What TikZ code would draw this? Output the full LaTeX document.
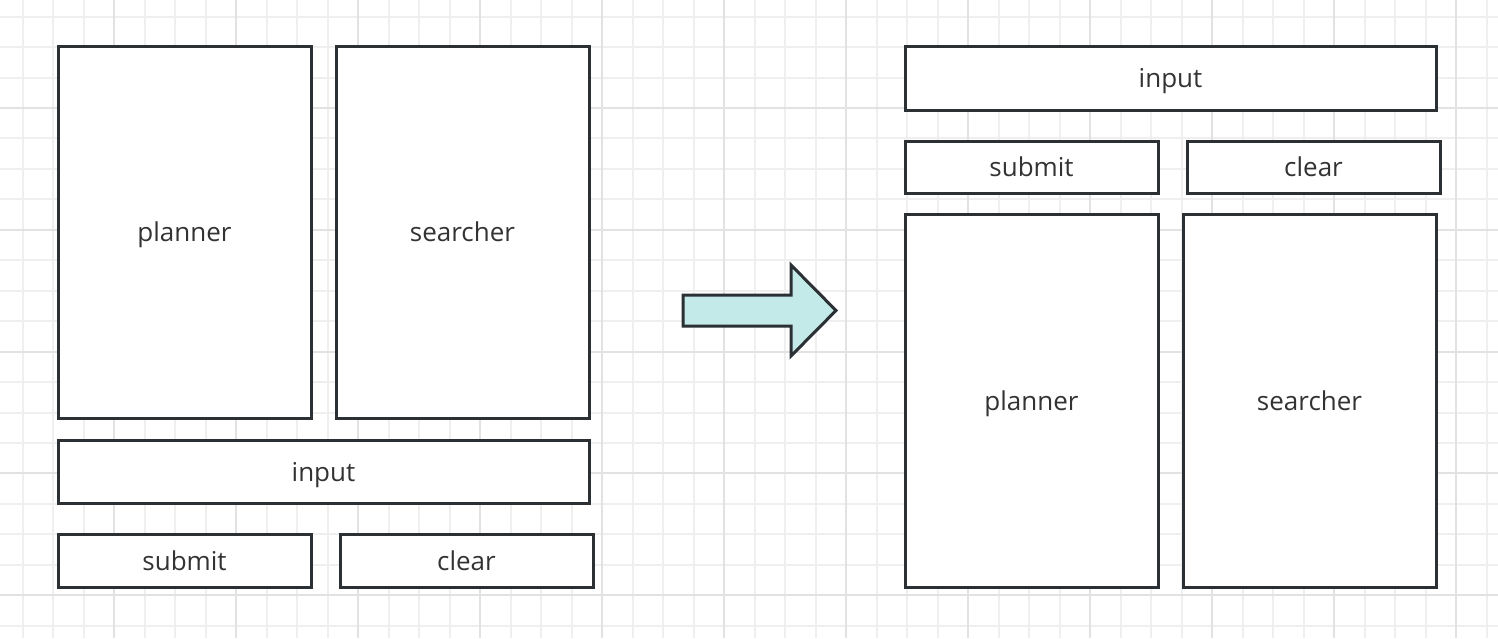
\documentclass[tikz,border=0pt]{standalone}
\usepackage{fontspec}
\setmainfont{Open Sans}
\definecolor{minorgrid}{HTML}{EFEFEF}
\definecolor{majorgrid}{HTML}{E2E2E2}
\definecolor{boxline}{HTML}{2B3035}
\definecolor{textcol}{HTML}{333333}
\definecolor{arrowfill}{HTML}{C3E9E8}
\begin{document}
\begin{tikzpicture}[x=1pt,y=-1pt,
  box/.style={draw=boxline,line width=3pt,fill=white},
  lbl/.style={font=\fontsize{26}{31}\selectfont,text=textcol,anchor=base,inner sep=0pt}]
\useasboundingbox (0,0) rectangle (1498,638);
\fill[white] (0,0) rectangle (1498,638);
% minor grid
\foreach \i in {-3,...,45} {
  \draw[minorgrid,line width=2pt] ({114+30.5*\i},0) -- ({114+30.5*\i},638);
}
\foreach \j in {-3,...,18} {
  \draw[minorgrid,line width=2pt] (0,{108+30.45*\j}) -- (1498,{108+30.45*\j});
}
% major grid
\foreach \i in {-1,...,12} {
  \draw[majorgrid,line width=2pt] ({114+122*\i},0) -- ({114+122*\i},638);
}
\foreach \j in {-1,...,4} {
  \draw[majorgrid,line width=2pt] (0,{108+121.8*\j}) -- (1498,{108+121.8*\j});
}
% left layout
\draw[box] (58,46) rectangle (311,418);
\node[lbl] (lplanner) at (184.5,241) {planner};
\draw[box] (336,46) rectangle (589,418);
\node[lbl] (lsearcher) at (462.5,241) {searcher};
\draw[box] (58,440) rectangle (589,503);
\node[lbl] (linput) at (323.5,481) {input};
\draw[box] (58,534) rectangle (311,587);
\node[lbl] (lsubmit) at (184.5,570) {submit};
\draw[box] (340,534) rectangle (593,587);
\node[lbl] (lclear) at (466.5,570) {clear};
% arrow
\draw[draw=boxline,line width=3pt,fill=arrowfill,line join=miter]
  (683,295) -- (791,295) -- (791,265) -- (836,310.5) -- (791,356) -- (791,326) -- (683,326) -- cycle;
% right layout
\draw[box] (905,46) rectangle (1436,110);
\node[lbl] (rinput) at (1170.5,87) {input};
\draw[box] (905,141) rectangle (1158,193);
\node[lbl] (rsubmit) at (1031.5,176) {submit};
\draw[box] (1187,141) rectangle (1440,193);
\node[lbl] (rclear) at (1313.5,176) {clear};
\draw[box] (905,214) rectangle (1158,587);
\node[lbl] (rplanner) at (1031.5,410) {planner};
\draw[box] (1183,214) rectangle (1436,587);
\node[lbl] (rsearcher) at (1309.5,410) {searcher};
\end{tikzpicture}
\end{document}
